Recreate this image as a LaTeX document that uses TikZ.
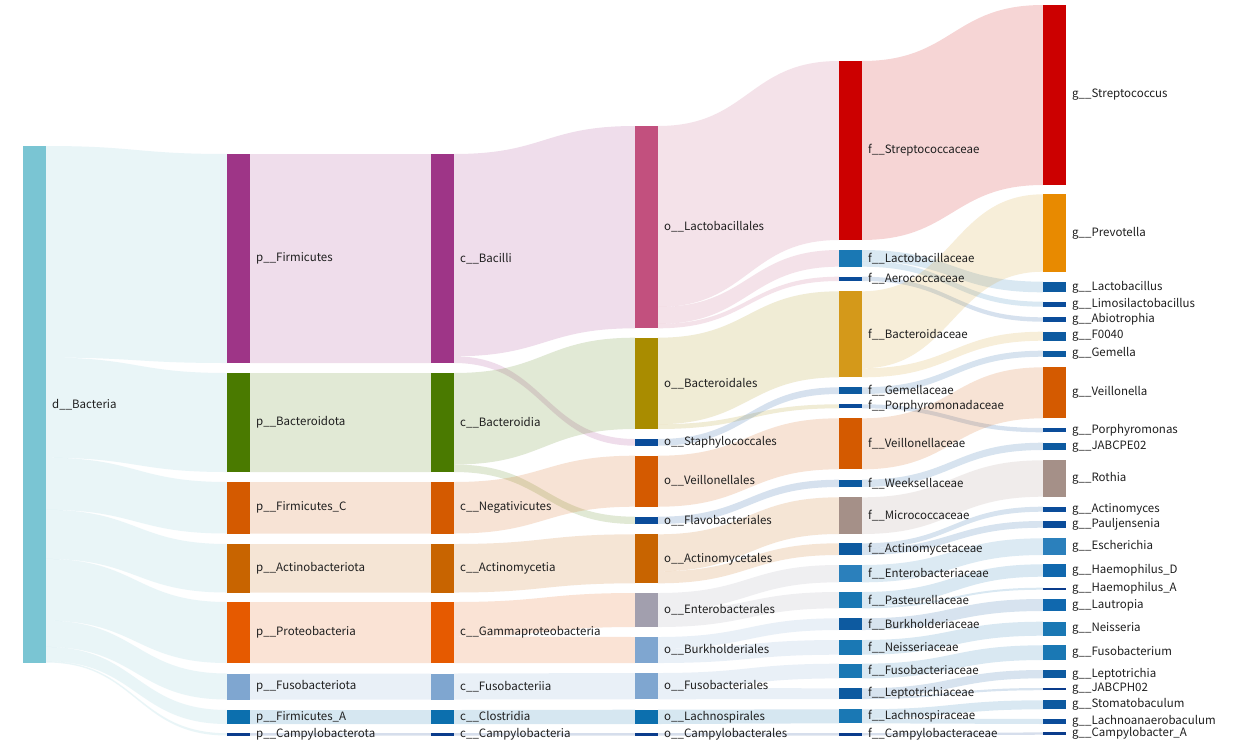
\documentclass[tikz,border=0pt]{standalone}
\usepackage{fontspec}
\setmainfont{Noto Sans CJK KR}
\usetikzlibrary{calc,backgrounds}
\definecolor{cD}{HTML}{7AC5D3}
\definecolor{cFirm}{HTML}{9E3587}
\definecolor{cBact}{HTML}{4A7A00}
\definecolor{cOr}{HTML}{D45A00}
\definecolor{cAct}{HTML}{C86400}
\definecolor{cPro}{HTML}{E65A00}
\definecolor{cLB}{HTML}{7FA6D0}
\definecolor{cB1}{HTML}{0C6FAE}
\definecolor{cNavy}{HTML}{0A3C8C}
\definecolor{cLac}{HTML}{C2507E}
\definecolor{cOl}{HTML}{A98C00}
\definecolor{cDB}{HTML}{0A4C9A}
\definecolor{cGr}{HTML}{A29FAE}
\definecolor{cRed}{HTML}{CC0000}
\definecolor{cB2}{HTML}{1A78B4}
\definecolor{cGold}{HTML}{D4991A}
\definecolor{cB3}{HTML}{0D5AA0}
\definecolor{cMic}{HTML}{A59088}
\definecolor{cPrev}{HTML}{E88A00}
\definecolor{cB4}{HTML}{2B80BC}
\definecolor{cB5}{HTML}{1068AE}
\tikzset{
  bar/.style={fill=#1, draw=none, inner sep=0pt, outer sep=0pt, minimum width=23pt, anchor=north west},
  lbl/.style={anchor=west, inner sep=0pt, font=\fontsize{11.5}{13}\selectfont, text=black!88},
  band/.style={fill=#1, fill opacity=0.165, draw=none}
}
% node: name, x, y top, height, colour, label
\newcommand\nd[6]{%
  \node[bar=#5, minimum height=#4pt] (#1) at (#2,#3) {};
  \node[lbl] (#1-l) at ([xshift=6pt]#1.east) {#6};}
% link: src, src offset, src width, tgt, tgt offset, tgt width, colour
\newcommand\lk[7]{%
  \path[band=#7] let \p1=(#1.north east), \p2=(#4.north west), \n1={0.5*\x1+0.5*\x2} in
  (\x1,\y1-#2pt) .. controls (\n1,\y1-#2pt) and (\n1,\y2-#5pt) .. (\x2,\y2-#5pt)
  -- (\x2,\y2-#5pt-#6pt) .. controls (\n1,\y2-#5pt-#6pt) and (\n1,\y1-#2pt-#3pt) .. (\x1,\y1-#2pt-#3pt) -- cycle;}
\begin{document}
\begin{tikzpicture}[x=1pt,y=-1pt]
\useasboundingbox (0,0) rectangle (1238,747);
% domain
\nd{d}{23}{146}{516.5}{cD}{d\_\_Bacteria}
% phylum
\nd{pFirm}{227}{154}{209}{cFirm}{p\_\_Firmicutes}
\nd{pBact}{227}{373}{99}{cBact}{p\_\_Bacteroidota}
\nd{pFirmC}{227}{482}{51.5}{cOr}{p\_\_Firmicutes\_C}
\nd{pActi}{227}{544}{48.5}{cAct}{p\_\_Actinobacteriota}
\nd{pProt}{227}{602}{61}{cPro}{p\_\_Proteobacteria}
\nd{pFuso}{227}{673.5}{26}{cLB}{p\_\_Fusobacteriota}
\nd{pFirmA}{227}{710}{14}{cB1}{p\_\_Firmicutes\_A}
\nd{pCampy}{227}{733.2}{2.3}{cNavy}{p\_\_Campylobacterota}
% class
\nd{cBac}{431}{154}{209}{cFirm}{c\_\_Bacilli}
\nd{cBcd}{431}{373}{99}{cBact}{c\_\_Bacteroidia}
\nd{cNeg}{431}{482}{51.5}{cOr}{c\_\_Negativicutes}
\nd{cAct}{431}{544}{48.5}{cAct}{c\_\_Actinomycetia}
\nd{cGam}{431}{602}{61}{cPro}{c\_\_Gammaproteobacteria}
\nd{cFus}{431}{673.5}{26}{cLB}{c\_\_Fusobacteriia}
\nd{cClo}{431}{710}{14}{cB1}{c\_\_Clostridia}
\nd{cCam}{431}{733.2}{2.3}{cNavy}{c\_\_Campylobacteria}
% order
\nd{oLac}{635}{126}{202.3}{cLac}{o\_\_Lactobacillales}
\nd{oBcd}{635}{337.7}{91.3}{cOl}{o\_\_Bacteroidales}
\nd{oSta}{635}{439}{6.7}{cDB}{o\_\_Staphylococcales}
\nd{oVei}{635}{455.7}{51}{cOr}{o\_\_Veillonellales}
\nd{oFla}{635}{516.7}{7.3}{cDB}{o\_\_Flavobacteriales}
\nd{oAct}{635}{534.3}{49}{cAct}{o\_\_Actinomycetales}
\nd{oEnt}{635}{593}{34}{cGr}{o\_\_Enterobacterales}
\nd{oBur}{635}{637}{26}{cLB}{o\_\_Burkholderiales}
\nd{oFus}{635}{673}{26.3}{cLB}{o\_\_Fusobacteriales}
\nd{oLch}{635}{709.7}{14.3}{cB1}{o\_\_Lachnospirales}
\nd{oCam}{635}{733.2}{2.3}{cNavy}{o\_\_Campylobacterales}
% family
\nd{fStr}{839}{61}{179}{cRed}{f\_\_Streptococcaceae}
\nd{fLac}{839}{250}{16.7}{cB2}{f\_\_Lactobacillaceae}
\nd{fAer}{839}{276.7}{4.3}{cDB}{f\_\_Aerococcaceae}
\nd{fBcd}{839}{291.3}{86}{cGold}{f\_\_Bacteroidaceae}
\nd{fGem}{839}{387.3}{6.7}{cB3}{f\_\_Gemellaceae}
\nd{fPor}{839}{404.3}{4}{cDB}{f\_\_Porphyromonadaceae}
\nd{fVei}{839}{418.3}{51}{cOr}{f\_\_Veillonellaceae}
\nd{fWee}{839}{479.7}{7.3}{cB3}{f\_\_Weeksellaceae}
\nd{fMic}{839}{497.3}{36.7}{cMic}{f\_\_Micrococcaceae}
\nd{fAct}{839}{543.3}{11.7}{cB3}{f\_\_Actinomycetaceae}
\nd{fEnt}{839}{565}{17.3}{cB4}{f\_\_Enterobacteriaceae}
\nd{fPas}{839}{592}{16.3}{cB2}{f\_\_Pasteurellaceae}
\nd{fBur}{839}{618.3}{11.7}{cB3}{f\_\_Burkholderiaceae}
\nd{fNei}{839}{640}{14.7}{cB2}{f\_\_Neisseriaceae}
\nd{fFus}{839}{663.7}{14.7}{cB2}{f\_\_Fusobacteriaceae}
\nd{fLep}{839}{688.3}{10.7}{cB3}{f\_\_Leptotrichiaceae}
\nd{fLch}{839}{709.3}{14}{cB2}{f\_\_Lachnospiraceae}
\nd{fCam}{839}{733.2}{2.3}{cNavy}{f\_\_Campylobacteraceae}
% genus
\nd{gStr}{1043}{5}{180}{cRed}{g\_\_Streptococcus}
\nd{gPre}{1043}{194.3}{77.4}{cPrev}{g\_\_Prevotella}
\nd{gLac}{1043}{281.7}{10.6}{cB3}{g\_\_Lactobacillus}
\nd{gLim}{1043}{301.7}{5}{cDB}{g\_\_Limosilactobacillus}
\nd{gAbi}{1043}{317.3}{4.4}{cDB}{g\_\_Abiotrophia}
\nd{gF00}{1043}{331.7}{9}{cB3}{g\_\_F0040}
\nd{gGem}{1043}{350.7}{6}{cB3}{g\_\_Gemella}
\nd{gVei}{1043}{367.3}{51}{cOr}{g\_\_Veillonella}
\nd{gPor}{1043}{428}{4.3}{cDB}{g\_\_Porphyromonas}
\nd{gJPE}{1043}{442.7}{7.3}{cB3}{g\_\_JABCPE02}
\nd{gRot}{1043}{460.3}{36.4}{cMic}{g\_\_Rothia}
\nd{gAcm}{1043}{506.7}{5}{cDB}{g\_\_Actinomyces}
\nd{gPau}{1043}{521}{6.7}{cDB}{g\_\_Pauljensenia}
\nd{gEsc}{1043}{538.3}{16.7}{cB4}{g\_\_Escherichia}
\nd{gHD}{1043}{564.3}{12.4}{cB5}{g\_\_Haemophilus\_D}
\nd{gHA}{1043}{587.7}{2}{cNavy}{g\_\_Haemophilus\_A}
\nd{gLau}{1043}{599}{12}{cB5}{g\_\_Lautropia}
\nd{gNei}{1043}{621.7}{14}{cB2}{g\_\_Neisseria}
\nd{gFsb}{1043}{645.3}{14.7}{cB2}{g\_\_Fusobacterium}
\nd{gLpt}{1043}{670}{8.3}{cB3}{g\_\_Leptotrichia}
\nd{gJPH}{1043}{688}{2.2}{cNavy}{g\_\_JABCPH02}
\nd{gSto}{1043}{700.3}{9}{cB3}{g\_\_Stomatobaculum}
\nd{gLan}{1043}{719}{5}{cDB}{g\_\_Lachnoanaerobaculum}
\nd{gCam}{1043}{732.4}{2.3}{cNavy}{g\_\_Campylobacter\_A}
\begin{pgfonlayer}{background}
\fill[white] (0,0) rectangle (1238,747);
% d -> p
\lk{d}{0}{211.5}{pFirm}{0}{209}{cD}
\lk{d}{211.5}{100.2}{pBact}{0}{99}{cD}
\lk{d}{311.7}{52.1}{pFirmC}{0}{51.5}{cD}
\lk{d}{363.8}{49.1}{pActi}{0}{48.5}{cD}
\lk{d}{412.9}{61.7}{pProt}{0}{61}{cD}
\lk{d}{474.6}{26.3}{pFuso}{0}{26}{cD}
\lk{d}{500.9}{14.2}{pFirmA}{0}{14}{cD}
\lk{d}{515.1}{1.4}{pCampy}{0}{2.3}{cD}
% p -> c
\lk{pFirm}{0}{209}{cBac}{0}{209}{cFirm}
\lk{pBact}{0}{99}{cBcd}{0}{99}{cBact}
\lk{pFirmC}{0}{51.5}{cNeg}{0}{51.5}{cOr}
\lk{pActi}{0}{48.5}{cAct}{0}{48.5}{cAct}
\lk{pProt}{0}{61}{cGam}{0}{61}{cPro}
\lk{pFuso}{0}{26}{cFus}{0}{26}{cLB}
\lk{pFirmA}{0}{14}{cClo}{0}{14}{cB1}
\lk{pCampy}{0}{2.3}{cCam}{0}{2.3}{cNavy}
% c -> o
\lk{cBac}{0}{202.3}{oLac}{0}{202.3}{cFirm}
\lk{cBac}{202.3}{6.7}{oSta}{0}{6.7}{cFirm}
\lk{cBcd}{0}{91.5}{oBcd}{0}{91.3}{cBact}
\lk{cBcd}{91.5}{7.5}{oFla}{0}{7.3}{cBact}
\lk{cNeg}{0}{51.5}{oVei}{0}{51}{cOr}
\lk{cAct}{0}{48.5}{oAct}{0}{49}{cAct}
\lk{cGam}{0}{34.5}{oEnt}{0}{34}{cPro}
\lk{cGam}{34.5}{26.5}{oBur}{0}{26}{cPro}
\lk{cFus}{0}{26}{oFus}{0}{26.3}{cLB}
\lk{cClo}{0}{14}{oLch}{0}{14.3}{cB1}
\lk{cCam}{0}{2.3}{oCam}{0}{2.3}{cNavy}
% o -> f
\lk{oLac}{0}{181}{fStr}{0}{179}{cLac}
\lk{oLac}{181}{16.9}{fLac}{0}{16.7}{cLac}
\lk{oLac}{197.9}{4.4}{fAer}{0}{4.3}{cLac}
\lk{oBcd}{0}{86.5}{fBcd}{0}{86}{cOl}
\lk{oBcd}{86.5}{4.8}{fPor}{0}{4}{cOl}
\lk{oSta}{0}{6.7}{fGem}{0}{6.7}{cDB}
\lk{oVei}{0}{51}{fVei}{0}{51}{cOr}
\lk{oFla}{0}{7.3}{fWee}{0}{7.3}{cDB}
\lk{oAct}{0}{37}{fMic}{0}{36.7}{cAct}
\lk{oAct}{37}{12}{fAct}{0}{11.7}{cAct}
\lk{oEnt}{0}{17.4}{fEnt}{0}{17.3}{cGr}
\lk{oEnt}{17.4}{16.6}{fPas}{0}{16.3}{cGr}
\lk{oBur}{0}{11.5}{fBur}{0}{11.7}{cLB}
\lk{oBur}{11.5}{14.5}{fNei}{0}{14.7}{cLB}
\lk{oFus}{0}{15}{fFus}{0}{14.7}{cLB}
\lk{oFus}{15}{11.3}{fLep}{0}{10.7}{cLB}
\lk{oLch}{0}{14.3}{fLch}{0}{14}{cB1}
\lk{oCam}{0}{2.3}{fCam}{0}{2.3}{cNavy}
% f -> g
\lk{fStr}{0}{179}{gStr}{0}{180}{cRed}
\lk{fLac}{0}{11}{gLac}{0}{10.6}{cB2}
\lk{fLac}{11}{5.7}{gLim}{0}{5}{cB2}
\lk{fAer}{0}{4.3}{gAbi}{0}{4.4}{cDB}
\lk{fBcd}{0}{77}{gPre}{0}{77.4}{cGold}
\lk{fBcd}{77}{9}{gF00}{0}{9}{cGold}
\lk{fGem}{0}{6.7}{gGem}{0}{6}{cB3}
\lk{fPor}{0}{4}{gPor}{0}{4.3}{cDB}
\lk{fVei}{0}{51}{gVei}{0}{51}{cOr}
\lk{fWee}{0}{7.3}{gJPE}{0}{7.3}{cB3}
\lk{fMic}{0}{36.7}{gRot}{0}{36.4}{cMic}
\lk{fAct}{0}{5}{gAcm}{0}{5}{cB3}
\lk{fAct}{5}{6.7}{gPau}{0}{6.7}{cB3}
\lk{fEnt}{0}{17.3}{gEsc}{0}{16.7}{cB4}
\lk{fPas}{0}{14.4}{gHD}{0}{12.4}{cB2}
\lk{fPas}{14.4}{1.9}{gHA}{0}{2}{cB2}
\lk{fBur}{0}{11.7}{gLau}{0}{12}{cB3}
\lk{fNei}{0}{14.7}{gNei}{0}{14}{cB2}
\lk{fFus}{0}{14.7}{gFsb}{0}{14.7}{cB2}
\lk{fLep}{0}{8.7}{gLpt}{0}{8.3}{cB3}
\lk{fLep}{8.7}{2}{gJPH}{0}{2.2}{cB3}
\lk{fLch}{0}{9}{gSto}{0}{9}{cB2}
\lk{fLch}{9}{5}{gLan}{0}{5}{cB2}
\lk{fCam}{0}{2.3}{gCam}{0}{2.3}{cNavy}
\end{pgfonlayer}
\end{tikzpicture}
\end{document}
